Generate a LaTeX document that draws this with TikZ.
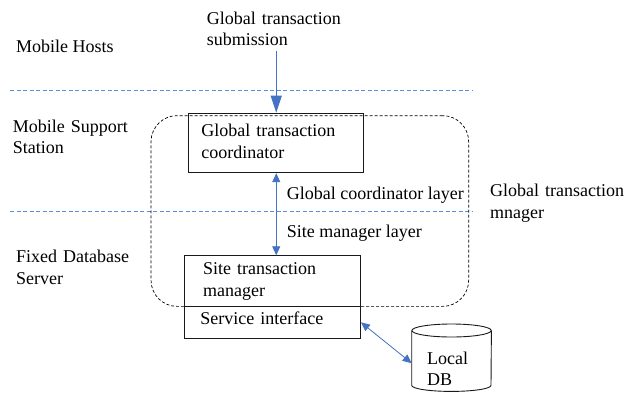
\documentclass[tikz,border=0pt]{standalone}
\usepackage{fontspec}
\setmainfont{Liberation Serif}
\usetikzlibrary{arrows.meta,calc}
\definecolor{arrowblue}{HTML}{4472C4}
\definecolor{layerblue}{HTML}{5B8FD9}
\hyphenpenalty=10000
\begin{document}
\begin{tikzpicture}[x=1pt,y=-1pt,
  every node/.style={font=\fontsize{18}{21.7}\selectfont},
  lbl/.style={inner sep=0pt, anchor=base west},
  box/.style={draw=black!90, line width=0.9pt, anchor=north west, inner ysep=0pt, align=left},
  boxline/.style={draw=black!90, line width=0.9pt},
  layerline/.style={draw=layerblue, line width=0.8pt, dash pattern=on 4pt off 2.5pt},
  frameline/.style={draw=black, line width=0.7pt, dash pattern=on 3pt off 2pt},
  arr/.style={draw=arrowblue, line width=0.8pt},
  bigtip/.style={-{Triangle[length=17pt,width=11pt]}},
  smalltips/.style={{Triangle[length=9pt,width=8pt]}-{Triangle[length=9pt,width=8pt]}}
]
\useasboundingbox (0,0) rectangle (624,392);

% layer boundaries
\draw[layerline] (10,90) -- (472,90);
\draw[layerline] (10,211) -- (472,211);

% global transaction manager frame
\node[frameline, rounded corners=26pt, minimum width=317.6pt, minimum height=190.7pt,
      inner sep=0pt, anchor=north west] (frame) at (150.7,115.3) {};

% layer names
\node[lbl] (mh) at (16,52) {Mobile Hosts};
\node[lbl, text width=120pt, align=left] (mss) at (12.7,132) {Mobile Support\\Station};
\node[lbl, text width=120pt, align=left] (fds) at (16,262.5) {Fixed Database\\Server};

% components
\node[box, inner xsep=12.7pt, text width=149.6pt, text height=23.3pt, text depth=36.3pt]
  (gtc) at (188.3,112.7) {Global transaction\\coordinator};
\node[box, inner xsep=18.4pt, text width=138.9pt, text height=19pt, text depth=31.7pt]
  (stm) at (184.3,255.3) {Site transaction\\manager};
\node[box, inner xsep=15.7pt, text width=144.3pt, text height=18.3pt, text depth=13.4pt]
  (si) at (184.3,306) {Service interface};

% local database (cylinder)
\node[inner xsep=15.3pt, inner ysep=0pt, text width=48.7pt, text height=40pt, text depth=27pt,
      anchor=north west, align=left] (db) at (411.7,324) {Local\\DB};
\draw[boxline] ([yshift=-6.5pt]db.north west) -- ([yshift=6pt]db.south west)
  arc[start angle=180, end angle=360, x radius=39.65pt, y radius=6pt]
  -- ([yshift=-6.5pt]db.north east);
\draw[boxline] ([yshift=-6.5pt]db.north) ellipse[x radius=39.65pt, y radius=6.5pt];

% other labels
\node[lbl, text width=140pt, align=left] (sub) at (206.7,24) {Global transaction\\submission};
\node[lbl] (gcl) at (286.7,199.3) {Global coordinator layer};
\node[lbl] (sml) at (286.7,237.3) {Site manager layer};
\node[lbl, text width=134pt, align=left] (gtm) at (490,196.7) {Global transaction\\mnager};

% connectors
\coordinate (subfoot) at ($(sub.south -| gtc.north)+(0,5)$);
\draw[arr, bigtip] (subfoot) -- (gtc.north);
\draw[arr, smalltips] (gtc.south) -- (gtc.south |- stm.north);
\draw[arr, smalltips] (si.east) -- ([yshift=-5.5pt]db.west);
\end{tikzpicture}
\end{document}
